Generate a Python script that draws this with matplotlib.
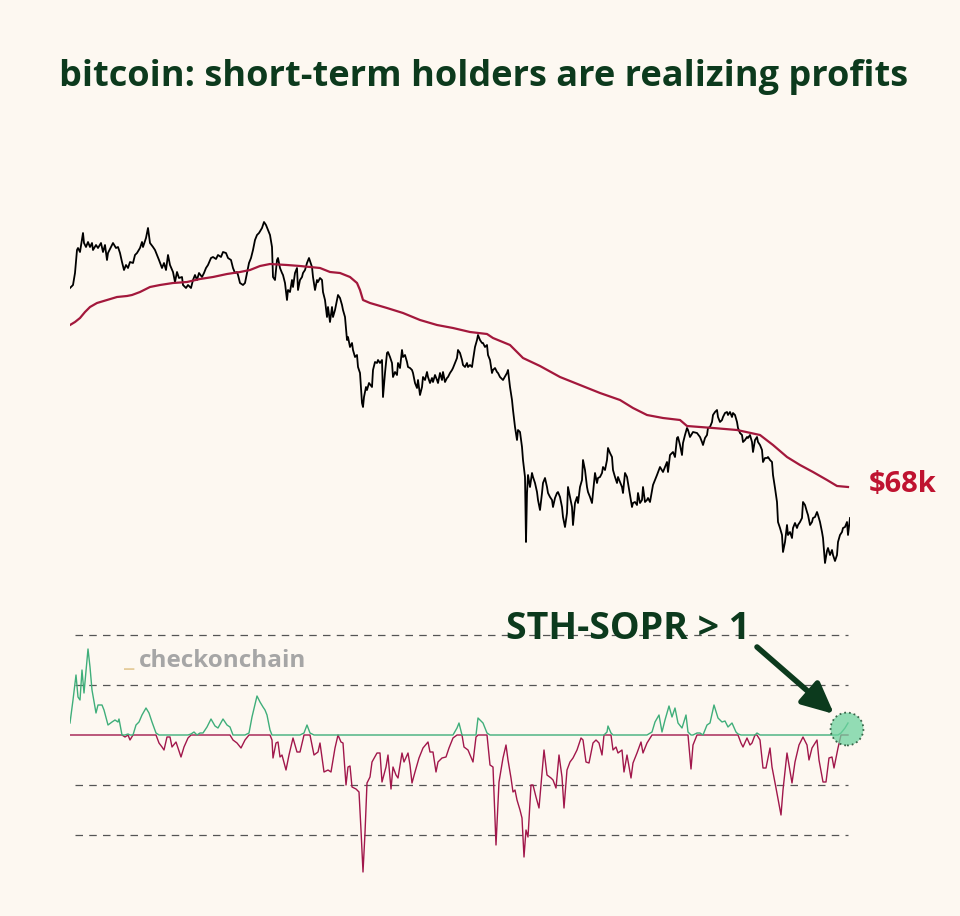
import numpy as np
import matplotlib
matplotlib.use("Agg")
import matplotlib.pyplot as plt

plt.rcParams['font.family'] = ['Open Sans', 'DejaVu Sans']

# --- data: (days from start of window, value) ---
# bitcoin price, $k
price_pts = [
    (0, 107.8), (3, 108.4), (5, 110.8), (7, 115.4), (8, 115.8), (10, 115.0), (13, 118.8), (14, 116.8), (16, 116.0), (18, 117.0),
    (20, 116.0), (22, 116.8), (23, 115.4), (26, 116.4), (28, 115.8), (31, 116.8), (33, 115.0), (35, 116.4), (37, 113.4), (38, 114.8),
    (41, 116.0), (43, 116.8), (46, 115.8), (48, 116.0), (50, 114.8), (52, 113.0), (54, 111.4), (56, 112.4), (58, 111.8), (60, 113.0),
    (63, 112.8), (65, 114.4), (67, 114.8), (70, 115.8), (72, 117.0), (73, 116.0), (76, 117.8), (78, 119.8), (80, 116.8), (83, 116.0),
    (85, 115.4), (87, 114.4), (89, 113.4), (92, 111.8), (94, 112.8), (96, 111.4), (98, 114.4), (100, 112.4), (103, 111.0), (105, 109.0),
    (107, 111.0), (109, 109.8), (112, 110.0), (113, 108.4), (116, 107.8), (118, 108.4), (121, 107.8), (123, 109.4), (125, 110.4), (127, 109.4),
    (129, 110.8), (132, 110.0), (134, 110.8), (136, 111.8), (138, 112.4), (141, 113.8), (143, 114.0), (146, 113.6), (148, 114.4), (151, 114.0),
    (153, 115.0), (156, 114.8), (158, 113.8), (161, 113.4), (163, 111.8), (165, 110.8), (167, 111.0), (168, 110.4), (170, 108.8), (173, 108.4),
    (175, 108.8), (177, 110.8), (179, 112.8), (181, 113.8), (183, 115.4), (185, 117.4), (187, 118.4), (189, 118.8), (192, 119.8), (194, 121.0),
    (196, 120.4), (198, 119.4), (200, 118.4), (202, 116.0), (203, 110.0), (205, 109.4), (207, 113.4), (208, 113.8), (210, 111.8), (212, 110.8),
    (213, 110.4), (215, 108.8), (217, 105.4), (218, 107.4), (220, 107.0), (222, 109.4), (223, 108.0), (225, 110.8), (227, 111.8), (228, 107.4),
    (230, 109.4), (232, 110.0), (233, 110.8), (235, 111.4), (237, 112.8), (239, 113.8), (242, 112.0), (243, 110.0), (245, 107.4), (247, 109.4),
    (248, 109.0), (250, 109.8), (252, 109.4), (253, 107.0), (255, 105.4), (257, 102.0), (258, 104.0), (260, 101.0), (262, 104.0), (263, 102.0),
    (265, 103.4), (267, 105.4), (268, 106.4), (270, 105.8), (272, 104.4), (273, 103.4), (275, 102.0), (277, 97.4), (278, 98.0), (280, 96.0),
    (282, 96.8), (283, 95.4), (285, 94.0), (287, 94.4), (288, 92.0), (290, 90.8), (292, 84.8), (293, 84.0), (294, 86.0), (296, 88.0),
    (297, 87.4), (299, 88.8), (302, 88.0), (303, 91.4), (305, 93.0), (307, 92.8), (308, 93.4), (310, 92.8), (312, 93.4), (313, 86.0),
    (315, 90.8), (317, 94.8), (318, 95.0), (320, 94.0), (322, 92.8), (323, 90.0), (325, 91.0), (327, 90.4), (328, 92.8), (330, 91.8),
    (332, 95.4), (333, 94.0), (335, 94.4), (337, 93.0), (338, 92.0), (340, 91.8), (342, 91.4), (343, 90.8), (345, 88.8), (347, 87.8),
    (348, 89.4), (350, 86.4), (352, 88.0), (353, 90.0), (355, 89.4), (357, 91.0), (358, 90.0), (360, 88.8), (362, 89.8), (363, 89.0),
    (365, 90.4), (367, 89.4), (368, 88.8), (370, 90.8), (372, 89.4), (373, 91.0), (375, 89.0), (377, 89.8), (378, 90.0), (380, 90.8),
    (382, 91.4), (383, 91.8), (385, 92.8), (387, 93.8), (388, 95.4), (390, 94.8), (392, 93.4), (393, 92.4), (395, 92.0), (397, 92.8),
    (398, 92.0), (400, 92.4), (402, 92.0), (403, 93.4), (405, 96.0), (407, 97.4), (408, 98.4), (410, 97.4), (412, 96.8), (413, 96.8),
    (415, 96.0), (417, 96.4), (418, 94.4), (420, 93.4), (422, 90.8), (423, 91.4), (425, 91.8), (427, 91.0), (428, 90.8), (430, 90.0),
    (433, 89.4), (437, 90.8), (438, 91.4), (440, 88.0), (442, 85.4), (443, 83.4), (445, 80.0), (447, 77.4), (448, 79.4), (450, 79.0),
    (452, 76.0), (453, 73.4), (455, 70.0), (456, 57.0), (457, 66.8), (458, 70.4), (460, 68.0), (462, 70.8), (463, 70.0), (465, 68.8),
    (467, 67.0), (468, 65.4), (470, 63.4), (472, 66.8), (473, 68.8), (475, 69.8), (477, 68.0), (478, 66.8), (480, 66.0), (482, 65.4),
    (483, 64.0), (485, 65.8), (487, 66.8), (488, 67.0), (490, 66.0), (492, 64.0), (493, 62.0), (495, 60.0), (497, 62.8), (498, 68.0),
    (500, 66.0), (502, 64.0), (503, 60.4), (505, 64.8), (507, 66.0), (508, 64.8), (510, 68.0), (512, 69.4), (513, 73.4), (515, 71.4),
    (517, 68.0), (518, 67.0), (520, 66.0), (522, 64.8), (523, 66.8), (525, 70.8), (527, 68.8), (528, 69.8), (530, 70.0), (532, 70.8),
    (533, 72.0), (535, 71.4), (537, 73.4), (538, 75.8), (540, 74.8), (542, 74.0), (543, 71.4), (545, 70.0), (547, 68.8), (548, 70.0),
    (550, 69.0), (552, 68.0), (553, 66.8), (555, 70.8), (557, 70.0), (558, 68.8), (560, 66.4), (562, 64.0), (563, 64.8), (565, 65.0),
    (567, 64.4), (568, 66.8), (570, 64.8), (572, 65.4), (573, 68.0), (575, 65.0), (577, 65.4), (578, 65.8), (580, 65.0), (583, 68.4),
    (587, 70.4), (590, 72.0), (593, 71.0), (597, 73.0), (598, 71.0), (600, 74.4), (603, 75.0), (605, 74.0), (607, 77.8), (608, 78.0),
    (610, 76.4), (612, 74.4), (613, 76.8), (615, 78.4), (617, 79.8), (618, 79.4), (620, 78.0), (623, 79.0), (627, 78.8), (630, 78.0),
    (632, 77.0), (633, 76.4), (635, 77.8), (637, 78.4), (638, 79.8), (640, 80.0), (642, 81.0), (643, 82.4), (645, 83.0), (647, 83.4),
    (648, 82.0), (650, 81.0), (652, 81.4), (653, 82.0), (655, 82.8), (657, 83.0), (658, 82.4), (660, 83.0), (662, 82.0), (663, 82.8),
    (665, 82.4), (667, 81.0), (668, 79.8), (670, 78.8), (672, 78.4), (673, 77.0), (675, 77.4), (677, 78.0), (678, 77.8), (680, 78.4),
    (682, 77.0), (683, 75.0), (685, 77.4), (687, 78.0), (688, 77.0), (690, 76.4), (692, 75.4), (693, 73.0), (695, 73.8), (697, 73.8),
    (698, 74.0), (700, 73.4), (702, 73.0), (703, 70.4), (705, 67.8), (707, 65.0), (708, 61.0), (710, 59.8), (712, 58.4), (713, 55.0),
    (715, 57.0), (717, 60.4), (718, 58.4), (720, 59.0), (722, 57.8), (723, 59.8), (725, 60.8), (727, 59.8), (728, 60.4), (730, 61.0),
    (732, 61.8), (733, 65.0), (735, 64.4), (737, 63.0), (738, 62.4), (740, 60.4), (742, 61.0), (743, 61.8), (745, 62.0), (747, 63.0),
    (748, 62.4), (750, 61.0), (752, 59.0), (753, 57.8), (755, 52.8), (757, 55.2), (758, 55.8), (760, 54.4), (762, 55.4), (763, 54.4),
    (765, 53.2), (767, 54.4), (768, 57.0), (770, 58.4), (772, 59.0), (773, 59.8), (775, 60.0), (777, 61.0), (778, 58.4), (780, 61.8),
]

# short-term holder realized price, $k
sth_pts = [
    (0, 100.4), (5, 101.0), (10, 101.8), (15, 103.0), (20, 104.0), (27, 104.8), (37, 105.4), (47, 106.0), (57, 106.2), (62, 106.4),
    (70, 107.0), (80, 108.0), (90, 108.4), (103, 108.8), (117, 109.0), (130, 109.6), (143, 110.0), (157, 110.6), (170, 111.0), (180, 111.4),
    (190, 112.2), (200, 112.6), (217, 112.4), (230, 112.2), (250, 111.8), (260, 111.0), (270, 110.8), (280, 110.0), (287, 108.8), (290, 107.4),
    (293, 105.4), (300, 104.8), (317, 103.8), (333, 102.8), (350, 101.4), (367, 100.4), (383, 99.8), (400, 99.0), (417, 98.6), (423, 97.8),
    (440, 96.4), (453, 93.8), (470, 92.2), (490, 90.0), (510, 88.4), (530, 86.8), (550, 85.4), (563, 83.8), (577, 82.4), (593, 81.8),
    (610, 81.4), (617, 80.2), (643, 79.8), (667, 79.4), (690, 78.4), (703, 76.4), (717, 74.0), (730, 72.4), (743, 71.0), (757, 69.4),
    (767, 68.2), (778, 68.0),
]
sth_label = "$68k"

# short-term holder SOPR
sopr_pts = [
    (0, 1.0024), (3, 1.0070), (6, 1.0120), (8, 1.0076), (10, 1.0070), (12, 1.0130), (14, 1.0084), (18, 1.0172), (20, 1.0136), (22, 1.0090),
    (26, 1.0044), (28, 1.0060), (32, 1.0060), (34, 1.0050), (38, 1.0020), (42, 1.0026), (45, 1.0030), (48, 1.0026), (49, 1.0032), (52, 1.0000),
    (55, 0.9996), (58, 1.0002), (60, 0.9990), (63, 1.0000), (66, 1.0020), (69, 1.0026), (72, 1.0040), (76, 1.0054), (79, 1.0044), (82, 1.0026),
    (86, 1.0004), (89, 0.9984), (92, 0.9976), (94, 0.9970), (97, 0.9996), (100, 0.9996), (102, 0.9976), (106, 0.9986), (108, 0.9974), (111, 0.9956),
    (114, 0.9976), (118, 0.9994), (121, 1.0002), (124, 1.0006), (127, 1.0000), (130, 1.0004), (133, 1.0004), (137, 1.0016), (141, 1.0032), (145, 1.0018),
    (148, 1.0014), (153, 1.0032), (157, 1.0020), (160, 1.0016), (163, 0.9990), (167, 0.9984), (171, 0.9974), (175, 0.9990), (179, 1.0004), (182, 1.0036),
    (187, 1.0078), (190, 1.0066), (193, 1.0056), (195, 1.0050), (197, 1.0040), (200, 1.0010), (202, 0.9990), (203, 0.9954), (206, 0.9984), (208, 0.9986),
    (210, 0.9956), (212, 0.9960), (216, 0.9930), (219, 0.9960), (223, 0.9994), (227, 0.9966), (230, 0.9966), (234, 1.0004), (237, 1.0020), (240, 1.0004),
    (244, 0.9960), (248, 0.9966), (250, 0.9984), (254, 0.9926), (258, 0.9930), (261, 0.9926), (265, 0.9974), (268, 1.0000), (271, 0.9986), (273, 0.9984),
    (276, 0.9900), (278, 0.9936), (280, 0.9938), (282, 0.9896), (286, 0.9892), (289, 0.9886), (291, 0.9810), (293, 0.9726), (295, 0.9804), (297, 0.9904),
    (300, 0.9916), (302, 0.9946), (307, 0.9964), (310, 0.9964), (312, 0.9906), (316, 0.9936), (318, 0.9960), (321, 0.9892), (323, 0.9936), (326, 0.9920),
    (328, 0.9914), (332, 0.9964), (334, 0.9946), (338, 0.9964), (340, 0.9940), (342, 0.9904), (345, 0.9926), (349, 0.9954), (353, 0.9974), (358, 0.9986),
    (360, 0.9966), (363, 0.9966), (366, 0.9926), (368, 0.9946), (372, 0.9954), (376, 0.9956), (379, 0.9974), (383, 0.9994), (387, 1.0014), (389, 1.0024),
    (392, 1.0000), (394, 0.9976), (398, 0.9970), (403, 0.9946), (406, 0.9996), (408, 1.0034), (413, 1.0024), (417, 1.0004), (420, 0.9940), (423, 0.9936),
    (426, 0.9780), (429, 0.9906), (433, 0.9954), (436, 0.9980), (438, 0.9950), (441, 0.9914), (443, 0.9886), (445, 0.9890), (447, 0.9870), (450, 0.9850),
    (452, 0.9834), (454, 0.9756), (456, 0.9810), (458, 0.9796), (461, 0.9900), (463, 0.9900), (466, 0.9876), (469, 0.9854), (472, 0.9924), (474, 0.9970),
    (477, 0.9920), (481, 0.9914), (483, 0.9910), (486, 0.9894), (489, 0.9960), (492, 0.9916), (494, 0.9854), (497, 0.9930), (500, 0.9946), (503, 0.9954),
    (507, 0.9970), (511, 0.9994), (513, 0.9990), (516, 0.9946), (519, 0.9944), (523, 0.9984), (526, 0.9990), (529, 0.9984), (532, 0.9960), (534, 1.0000),
    (537, 1.0006), (538, 1.0018), (541, 1.0004), (543, 0.9970), (546, 0.9976), (548, 0.9964), (552, 0.9970), (554, 0.9926), (557, 0.9960), (561, 0.9914),
    (563, 0.9944), (567, 0.9964), (571, 0.9986), (573, 0.9964), (577, 0.9984), (582, 1.0006), (585, 1.0026), (589, 1.0040), (592, 1.0006), (595, 1.0030),
    (599, 1.0058), (602, 1.0036), (605, 1.0054), (608, 1.0024), (612, 1.0014), (616, 1.0040), (618, 1.0006), (621, 0.9932), (623, 0.9980), (627, 1.0004),
    (630, 1.0004), (633, 1.0000), (637, 1.0020), (640, 1.0024), (644, 1.0060), (648, 1.0034), (652, 1.0026), (655, 1.0028), (658, 1.0016), (662, 1.0024),
    (666, 1.0006), (668, 1.0002), (671, 0.9984), (673, 0.9976), (677, 0.9994), (680, 0.9980), (682, 0.9984), (685, 1.0000), (687, 1.0004), (690, 0.9990),
    (693, 0.9934), (696, 0.9934), (700, 0.9974), (702, 0.9936), (706, 0.9894), (711, 0.9840), (713, 0.9890), (717, 0.9964), (722, 0.9904), (725, 0.9946),
    (729, 0.9980), (733, 0.9996), (737, 0.9980), (739, 0.9950), (742, 0.9974), (747, 0.9990), (749, 0.9950), (753, 0.9906), (756, 0.9906), (759, 0.9954),
    (762, 0.9956), (764, 0.9934), (768, 0.9974), (771, 1.0004), (775, 1.0014), (778, 1.0024),
]
sopr_bands = [1.02, 1.01, 0.99, 0.98]

price_day, price_k = np.array(price_pts).T
sth_day, sth_k = np.array(sth_pts).T
sopr_day, sopr = np.array(sopr_pts).T

bg = '#fdf8f1'
ink = '#0c3a1d'
crimson = '#bf1330'
sth_col = '#a3183c'
green = '#3fae7a'
maroon = '#a1174b'

fig = plt.figure(figsize=(9.6, 9.16), dpi=100, facecolor=bg)

# price panel
ax = fig.add_axes([70 / 960, 346 / 916, 780 / 960, 355 / 916], facecolor=bg)
ax.plot(price_day, price_k, color='black', lw=1.3)
ax.plot(sth_day, sth_k, color=sth_col, lw=1.6)
ax.set_xlim(0, 780)
ax.set_ylim(51.4, 122.4)
ax.axis('off')
ax.annotate(sth_label, xy=(sth_day[-1], sth_k[-1]), xytext=(15, 2), textcoords='offset points',
            color=crimson, fontsize=21, fontweight='bold', va='center', ha='left',
            annotation_clip=False)

# SOPR panel
ax2 = fig.add_axes([70 / 960, 36 / 916, 780 / 960, 260 / 916], facecolor=bg)
for lvl in sopr_bands:
    ax2.hlines(lvl, 5, 778, colors='#555555', linestyles=(0, (6, 5)), lw=0.9)
ax2.plot(sopr_day, np.minimum(sopr, 1.0), color=maroon, lw=1.0)
ax2.plot(sopr_day, np.maximum(sopr, 1.0), color=green, lw=1.0)
ax2.scatter([sopr_day[-1] - 1], [1.0012], s=560, facecolor='#6fd3a0', alpha=0.75,
            edgecolor=ink, linestyle=':', linewidth=1.3, zorder=5, clip_on=False)
ax2.set_xlim(0, 780)
ax2.set_ylim(0.971, 1.023)
ax2.axis('off')
ax2.annotate('', xy=(764, 1.0042), xytext=(687, 1.0176),
             arrowprops=dict(arrowstyle='-|>,head_length=0.95,head_width=0.45', color=ink, lw=4,
                             mutation_scale=20, shrinkA=0, shrinkB=0),
             annotation_clip=False)

fig.text(0.654, 0.313, 'STH-SOPR > 1', color=ink, fontsize=27, fontweight='bold',
         ha='center', va='center')
fig.text(0.1295, 0.2795, '_', color='#e5cc9b', fontsize=18, fontweight='bold', va='center')
fig.text(0.1445, 0.2785, 'checkonchain', color='#a6a6a6', fontsize=17.5, fontweight='bold', va='center')

fig.text(0.5035, 0.916, 'bitcoin: short-term holders are realizing profits', color=ink,
         fontsize=26, fontweight='bold', ha='center', va='center')

fig.savefig('out.png', dpi=100, facecolor=bg)
